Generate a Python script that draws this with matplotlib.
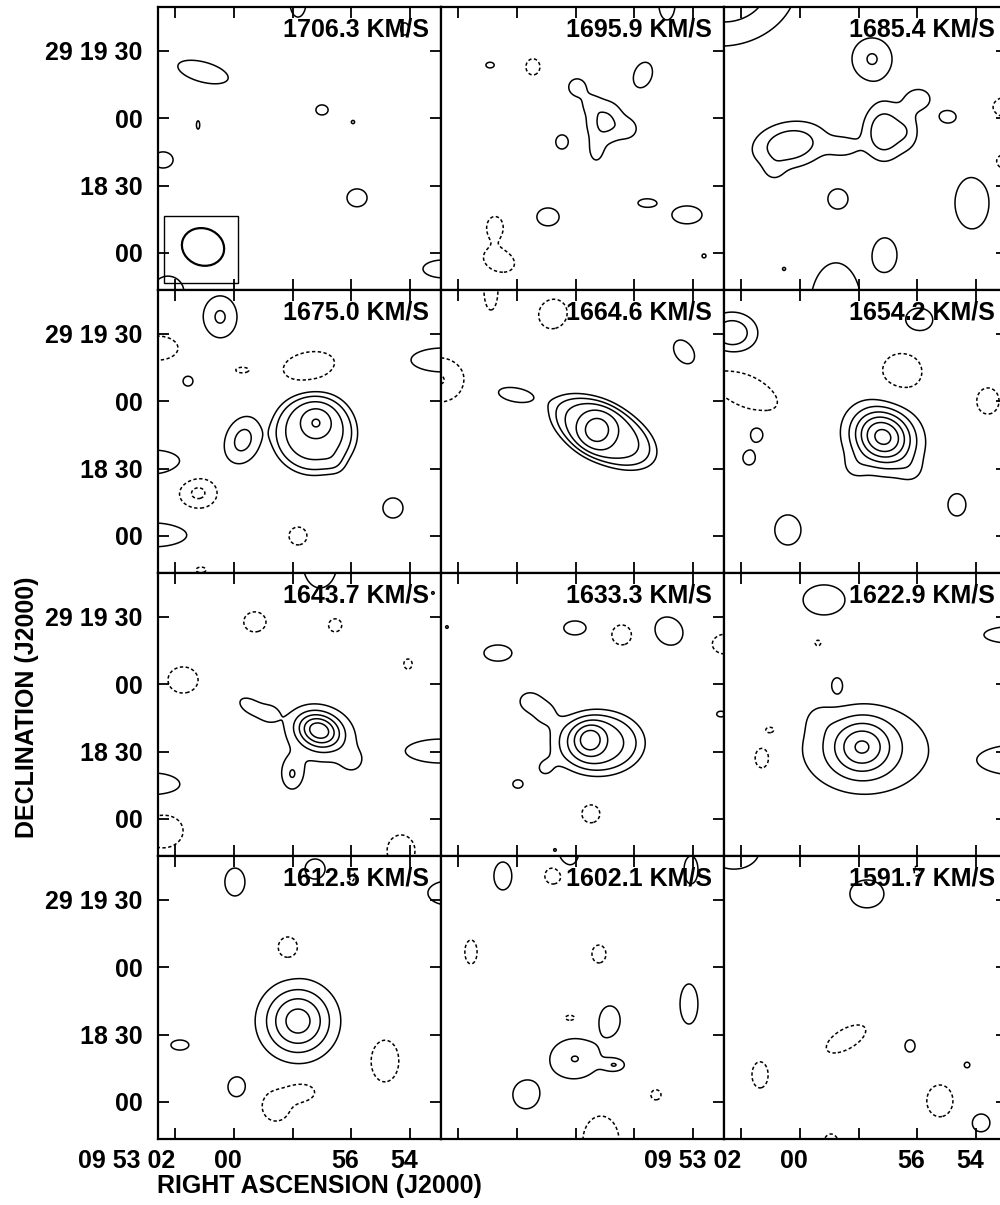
import numpy as np
import matplotlib
matplotlib.use("Agg")
import matplotlib.pyplot as plt
from matplotlib.patches import Ellipse, Rectangle
from matplotlib.transforms import blended_transform_factory

plt.rcParams['font.family'] = ['Liberation Sans', 'DejaVu Sans']
plt.rcParams['font.weight'] = 'bold'

# offsets in arcsec from 09 53 00, +29 18 00 (east positive)
# each component: (ra_off, dec_off, peak, sigma_x, sigma_y, angle_deg[, shape_exp])
velocities = [1706.3, 1695.9, 1685.4, 1675.0, 1664.6, 1654.2,
              1643.7, 1633.3, 1622.9, 1612.5, 1602.1, 1591.7]

ch_1706 = [(13.7, 80.6, 1.6, 11.9, 4.6, -15), (15.9, 57.0, 1.6, 0.75, 1.9, 0),
           (-39.3, 63.7, 1.6, 2.8, 2.3, 0), (-53.1, 58.3, 1.6, 0.75, 0.75, 0),
           (31.5, 41.4, 1.6, 4.6, 3.7, 0), (-54.9, 24.5, 1.6, 4.6, 4.1, 0),
           (-93.2, -7.2, 1.6, 9.2, 4.1, 0), (29.3, -17.5, 1.6, 7.3, 7.3, 0),
           (-28.6, 111.8, 1.6, 3.7, 6.9, 0), (-76.2, 99.8, 1.6, 1.9, 2.8, 0)]
ch_1696 = [(11.9, 83.7, 1.6, 1.9, 1.3, 0), (-7.2, 82.9, -1.6, 3.2, 3.7, 0),
           (-39.3, 58.3, 2.3, 6.3, 7.3, 0), (-26.8, 73.9, 1.5, 4.0, 4.0, 0),
           (-33.0, 66.4, 0.9, 3.1, 3.1, 0), (-50.0, 55.2, 1.2, 3.6, 3.6, 0),
           (-35.3, 45.0, 1.2, 2.7, 4.5, 0), (-20.1, 49.4, 1.6, 2.8, 3.2, 0),
           (-56.2, 79.3, 1.6, 6.0, 4.1, 70), (-58.0, 22.2, 1.6, 4.1, 1.9, 0),
           (-75.8, 16.9, 1.6, 6.9, 4.1, 0), (-83.4, -1.4, 1.6, 0.9, 0.9, 0),
           (-13.9, 16.0, 1.6, 5.1, 4.1, 0), (9.7, 11.5, -1.6, 3.7, 4.8, 0),
           (7.9, -3.5, -1.6, 7.3, 5.0, -20), (-66.9, 110.9, 1.6, 3.7, 7.3, 0)]
ch_1685 = [(31.5, 116.7, 2.75, 21.4, 16.9, 15), (-32.2, 86.4, 2.09, 7.3, 7.7, 0),
           (4.4, 48.1, 2.95, 11.5, 7.0, 10), (-37.5, 53.9, 2.95, 6.4, 8.9, 0),
           (-19.7, 47.2, 1.3, 5.3, 3.6, 0), (-53.1, 68.6, 1.5, 5.3, 4.5, 0),
           (-48.6, 53.9, 1.2, 4.0, 6.2, 0), (11.5, 36.0, 0.8, 3.6, 3.6, 0),
           (-66.0, 60.6, 1.6, 3.7, 2.8, 0), (-92.3, 65.0, -1.6, 6.4, 4.6, 0),
           (-92.7, 40.5, -1.6, 6.4, 4.1, 0), (-17.0, 24.0, 1.6, 4.6, 4.6, 0),
           (-76.7, 22.2, 1.6, 7.8, 11.9, 0), (-37.9, -1.0, 1.6, 5.5, 7.8, 0, 3),
           (7.0, -7.2, 1.6, 0.7, 0.7, 0), (-16.1, -24.1, 1.6, 11.6, 20.0, 0, 3)]
ch_1675 = [(6.1, 97.6, 2.14, 6.1, 7.6, 0), (33.75, 83.7, -1.6, 9.2, 5.5, 0),
           (-3.7, 73.9, -1.6, 2.8, 1.2, 0), (20.4, 69.0, 1.6, 2.3, 2.3, 0),
           (-33.5, 75.7, -1.6, 11.9, 6.4, 10), (-93.2, 78.4, 1.6, 14.7, 5.5, 0),
           (-35.7, 45.9, 3.2, 16.9, 16.5, 0, 6), (-36.6, 50.3, 1.9, 5.3, 5.3, 0),
           (-46.4, 30.2, 0.6, 3.6, 3.6, 0), (-4.1, 42.7, 2.14, 9.4, 6.8, 70, 3),
           (36.0, 32.9, 1.6, 12.8, 5.5, 0), (15.9, 19.1, -2.23, 6.7, 5.6, 0),
           (-70.9, 12.4, 1.6, 4.6, 4.6, 0), (36.0, 0.4, 1.6, 15.6, 5.5, 0),
           (-28.6, -0.1, -1.6, 4.1, 4.1, 0), (14.6, -15.2, -1.6, 2.3, 1.3, 0)]
ch_1665 = [(11.5, 109.6, -1.6, 3.2, 9.2, 0), (-16.1, 98.9, -1.6, 6.9, 6.4, 60),
           (34.6, 69.5, -2.06, 9.3, 8.2, 0), (0.4, 62.8, 1.6, 8.3, 3.2, -10),
           (-74.5, 82.0, 1.6, 6.0, 4.1, -55), (-38.4, 46.3, 3.3, 22.7, 11.6, -28, 6),
           (-35.7, 47.2, 2.4, 6.2, 6.2, 0)]
ch_1654 = [(30.2, 90.4, 2.9, 7.9, 6.4, 0), (-53.1, 96.2, 1.6, 6.4, 5.5, 0),
           (24.8, 65.0, -1.6, 16.5, 7.3, -25), (-45.5, 73.0, -1.6, 9.2, 8.7, 0),
           (-83.8, 60.1, -1.6, 5.1, 6.0, 0), (19.1, 45.4, 1.6, 3.2, 3.7, 0),
           (22.6, 34.7, 1.6, 2.8, 3.2, 0), (-37.0, 44.1, 6.4, 10.2, 8.9, -30),
           (-24.1, 30.2, 0.8, 4.5, 4.5, 0), (-50.0, 28.5, 0.7, 4.5, 4.5, 0),
           (5.3, 2.6, 1.6, 6.0, 6.9, 0), (-70.0, 13.8, 1.6, 4.1, 5.1, 0)]
ch_1644 = [(-38.4, 114.1, 1.6, 7.8, 11.5, 0), (-88.7, 100.7, 1.6, 0.6, 0.6, 0),
           (-9.4, 87.8, -1.6, 5.1, 4.6, 0), (-45.1, 86.4, -1.6, 3.2, 3.2, 0),
           (-77.6, 69.0, -1.6, 1.9, 2.3, 0), (22.6, 61.9, -1.6, 6.9, 6.0, 0),
           (-37.9, 39.6, 4.6, 7.1, 5.3, -20), (-38.8, 36.0, 1.3, 13.4, 11.1, 0),
           (-7.2, 50.3, 1.5, 5.3, 3.1, -30), (-16.1, 47.2, 1.0, 4.0, 4.0, 0),
           (-25.9, 19.5, 1.8, 3.6, 5.3, 0), (-53.1, 24.9, 0.8, 4.5, 4.5, 0),
           (36.0, 15.1, 1.6, 12.8, 5.5, 0), (-92.3, 30.2, 1.6, 16.0, 5.5, 0),
           (31.5, -5.4, -1.6, 9.2, 7.8, 0), (-74.5, -14.3, -1.6, 6.4, 7.3, 0)]
ch_1633 = [(31.1, 85.5, 1.6, 0.6, 0.6, 0), (-25.9, 85.1, 1.6, 5.1, 3.2, 0),
           (-46.8, 82.0, -1.6, 4.6, 4.6, 0), (-67.8, 83.7, 1.6, 6.9, 6.0, -45),
           (-93.2, 77.9, -1.6, 6.4, 4.6, 0), (8.4, 73.9, 1.6, 6.4, 3.7, 0),
           (-90.9, 46.7, 1.6, 1.9, 1.3, 0), (-36.2, 33.8, 3.3, 16.9, 12.0, 0, 4),
           (-32.6, 35.2, 2.6, 4.9, 4.9, 0), (-5.4, 52.5, 1.5, 4.0, 3.6, 0),
           (-12.6, 47.2, 1.4, 5.0, 5.0, 0), (-12.6, 22.7, 1.2, 4.0, 4.0, 0),
           (-0.5, 15.5, 1.6, 2.3, 1.9, 0), (-33.0, 2.2, -1.6, 4.1, 4.1, 0),
           (-17.0, -13.9, 1.6, 0.6, 0.6, 0)]
ch_1623 = [(-10.8, 97.6, 1.6, 9.6, 6.9, 0), (-8.1, 78.4, -1.6, 1.3, 1.3, 0),
           (-93.2, 82.0, 1.6, 11.5, 3.7, 0), (-16.6, 59.7, 1.6, 2.3, 3.2, 0),
           (13.3, 39.6, -1.6, 1.9, 1.3, 0), (16.8, 27.1, -1.6, 3.2, 4.6, 0),
           (-29.5, 30.7, 1.6, 28.0, 19.0, 0, 4), (-27.7, 32.0, 3.6, 9.0, 8.0, 0),
           (-8.0, 46.0, 0.6, 5.0, 5.0, 0),
           (-97.0, 26.2, 1.6, 18.4, 6.9, 0, 3)]
ch_1613 = [(-0.5, 98.0, 1.6, 4.6, 6.4, 0), (-36.2, 103.8, 1.6, 4.6, 4.6, 0),
           (-52.6, 101.1, -1.6, 1.3, 2.8, 0), (-95.4, 93.1, 1.6, 9.2, 5.5, 0),
           (-24.1, 68.6, -1.6, 4.6, 5.1, 0), (-28.6, 36.0, 4.5, 11.0, 11.0, 0),
           (24.0, 25.3, 1.6, 4.1, 2.3, 0), (-67.3, 18.2, -1.6, 6.4, 9.6, 0),
           (-1.4, 6.6, 1.6, 4.1, 4.6, 0), (-18.8, -1.9, -1.6, 6.4, 6.9, 0),
           (-30.8, 4.4, -1.6, 5.5, 3.7, 0)]
ch_1602 = [(6.2, 100.7, 1.6, 4.1, 6.4, 0), (-16.1, 100.7, -1.6, 3.7, 3.7, 0),
           (-23.2, 111.4, 1.6, 4.5, 6.2, 0, 3),
           (-77.6, 103.4, 1.6, 3.2, 6.4, 0), (20.4, 66.8, -1.6, 2.8, 5.5, 0),
           (-36.6, 65.9, -1.6, 3.2, 4.1, 0), (-76.7, 43.6, 1.6, 4.1, 9.2, 0),
           (-41.5, 36.5, 1.6, 4.6, 6.4, 0), (-23.7, 37.4, -1.6, 2.3, 1.3, 0),
           (-25.9, 19.1, 2.03, 9.3, 7.6, 0), (-43.7, 16.4, 1.75, 3.6, 2.2, 0),
           (-4.1, 3.1, 1.6, 6.0, 6.4, 0), (-62.0, 3.1, -1.6, 2.3, 2.3, 0),
           (-37.5, -17.5, -1.6, 8.3, 11.5, 0)]
ch_1592 = [(29.3, 111.8, 1.6, 11.5, 8.3, 0), (-52.2, 102.9, -1.6, 1.3, 2.3, 0),
           (-29.9, 92.7, 1.6, 7.8, 6.4, 0), (-20.6, 28.0, -1.6, 10.1, 4.6, 30),
           (-49.1, 24.9, 1.6, 2.3, 2.8, 0), (17.7, 12.0, -1.6, 3.7, 6.0, 0),
           (-74.5, 16.4, 1.6, 1.3, 1.3, 0), (-62.4, 0.4, -1.6, 6.0, 7.3, 0),
           (-80.7, -9.4, 1.6, 4.1, 4.1, 0), (-13.9, -19.7, -1.6, 3.7, 5.5, 0)]

channels = [ch_1706, ch_1696, ch_1685, ch_1675, ch_1665, ch_1654,
            ch_1644, ch_1633, ch_1623, ch_1613, ch_1602, ch_1592]

neg_levels = [-2, -1]
pos_levels = [1, 2, 3, 4, 5, 6, 7, 8, 9]

ra_ticks_sec = [2, 0, -2, -4, -6]
ra_tick_labels = ['09 53 02', '00', '', '56', '54']
dec_ticks = [0, 30, 60, 90]
dec_tick_labels = ['00', '18 30', '00', '29 19 30']
sec_to_arcsec = 15 * np.cos(np.radians(29.3))

# beam (FWHM) and its box, arcsec
beam = (13.7, 2.6, 19.1, 16.5, 20)
beam_box = (-1.9, -13.4, 33.0, 29.8)

xlim = (33.75, -92.3)
ylim = (-16.6, 109.6)


def channel_map(comps, A, D):
    img = np.zeros_like(A)
    for comp in comps:
        a0, d0, pk, sa, sb, pa = comp[:6]
        ex = comp[6] if len(comp) > 6 else 2
        dx = -(A - a0)
        dy = D - d0
        t = np.radians(pa)
        p = dx * np.cos(t) + dy * np.sin(t)
        q = -dx * np.sin(t) + dy * np.cos(t)
        rho2 = (p / sa) ** 2 + (q / sb) ** 2
        img += pk * np.exp(-0.5 * rho2 ** (ex / 2))
    return img


a = np.linspace(-100, 40, 520)
d = np.linspace(-25, 122, 540)
A, D = np.meshgrid(a, d)

W, H = 1000, 1205
fig = plt.figure(figsize=(W / 100, H / 100), dpi=100)
xt = np.array(ra_ticks_sec) * sec_to_arcsec

for i, (vel, comps) in enumerate(zip(velocities, channels)):
    r, c = divmod(i, 3)
    ax = fig.add_axes([(158 + 283 * c) / W, 1 - (290 + 283 * r) / H, 283 / W, 283 / H])
    img = channel_map(comps, A, D)
    ax.contour(A, D, img, levels=neg_levels, colors='k', linewidths=1.1,
               linestyles=[(0, (2.2, 1.6))])
    ax.contour(A, D, img, levels=pos_levels, colors='k', linewidths=1.1,
               linestyles='solid')
    ax.set_xlim(*xlim)
    ax.set_ylim(*ylim)
    ax.set_xticks(xt)
    ax.set_yticks(dec_ticks)
    ax.tick_params(direction='in', length=8, width=1.3, top=True, bottom=True,
                   right=True, left=(c == 0), labelbottom=False, labelleft=False)
    for s in ax.spines.values():
        s.set_linewidth(1.6)
    if c == 0:
        ax.tick_params(labelleft=True, pad=11, labelsize=18)
        ax.set_yticklabels(dec_tick_labels, fontweight='bold')
    if r == 3 and c in (0, 2):
        tr = blended_transform_factory(ax.transData, ax.transAxes)
        for k, (x, lab) in enumerate(zip(xt, ra_tick_labels)):
            if not lab:
                continue
            if k == 0:
                ax.text(x, -29 / 283, lab, transform=tr, ha='right', va='baseline',
                        fontsize=18, fontweight='bold')
            else:
                ax.text(x + 6 * 0.4453, -29 / 283, lab, transform=tr, ha='center',
                        va='baseline', fontsize=18, fontweight='bold')
    ax.text(0.9576, 0.894, f'{vel:.1f} KM/S', transform=ax.transAxes, ha='right',
            va='baseline', fontsize=18, fontweight='bold')
    if i == 0:
        bx, by, bw, bh = beam_box
        ax.add_patch(Rectangle((bx, by), bw, bh, fill=False, lw=1.0, ec='k'))
        ex, ey, ew, eh, ea = beam
        ax.add_patch(Ellipse((ex, ey), ew, eh, angle=ea, fill=False, lw=1.6, ec='k'))

fig.text(157 / W, 1 - 1193 / H, 'RIGHT ASCENSION (J2000)', ha='left', va='baseline',
         fontsize=18, fontweight='bold')
fig.text(27.5 / W, 1 - 707.5 / H, 'DECLINATION (J2000)', rotation=90, ha='center',
         va='center', fontsize=18, fontweight='bold')

fig.savefig('out.png', dpi=100)
